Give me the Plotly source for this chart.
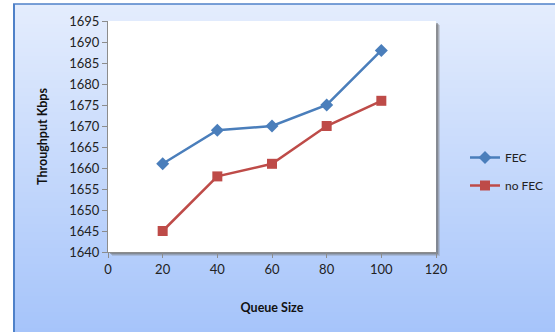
import plotly.graph_objects as go

# Throughput versus queue size, with and without FEC
queue_size = [20, 40, 60, 80, 100]
fec = [1661, 1669, 1670, 1675, 1688]
no_fec = [1645, 1658, 1661, 1670, 1676]

W, H = 555, 332
L, R, T, B = 108, 119, 21, 80
pw, ph = W - L - R, H - T - B


def px_x(x):
    return (x - L) / pw


def px_y(y):
    return (H - B - y) / ph


def lerp(c0, c1, t):
    return "rgb(%d,%d,%d)" % tuple(round(a + (b - a) * t) for a, b in zip(c0, c1))


shapes = []
# chart area: vertical gradient from pale blue to blue
top_c, bot_c = (228, 237, 253), (166, 196, 250)
y0_px, n = 4, 82
step = (H - y0_px) / n
for i in range(n):
    ya = y0_px + i * step
    yb = ya + step + 0.6
    shapes.append(dict(type="rect", xref="paper", yref="paper", layer="below",
                       x0=px_x(14), x1=px_x(W + 2), y0=px_y(yb), y1=px_y(ya),
                       line=dict(width=0), fillcolor=lerp(top_c, bot_c, i / (n - 1))))
# chart area border
shapes.append(dict(type="line", xref="paper", yref="paper", layer="below",
                   x0=px_x(14), x1=px_x(14), y0=px_y(H + 2), y1=px_y(4),
                   line=dict(color="#4f81c8", width=2)))
shapes.append(dict(type="line", xref="paper", yref="paper", layer="below",
                   x0=px_x(13), x1=px_x(W + 2), y0=px_y(4), y1=px_y(4),
                   line=dict(color="#4f81c8", width=1.5)))
# soft drop shadow behind the plot area
for off, col in [(4, "rgba(120,120,120,0.25)"), (3, "rgba(120,120,120,0.35)"), (2, "rgba(110,110,110,0.5)")]:
    shapes.append(dict(type="rect", xref="paper", yref="paper", layer="below",
                       x0=px_x(L + off), x1=px_x(L + pw + off), y0=px_y(H - B + off), y1=px_y(T + off),
                       line=dict(width=0), fillcolor=col))
# white plot area
shapes.append(dict(type="rect", xref="paper", yref="paper", layer="below",
                   x0=0, x1=1, y0=0, y1=1, line=dict(width=0), fillcolor="white"))

fig = go.Figure()
fig.add_trace(go.Scatter(
    x=queue_size, y=fec, name="FEC", mode="lines+markers", legendgroup="a",
    line=dict(color="#4a7ebb", width=2.5),
    marker=dict(symbol="diamond", size=10, color="#4a7ebb"),
))
fig.add_trace(go.Scatter(
    x=queue_size, y=no_fec, name="no FEC", mode="lines+markers", legendgroup="b",
    line=dict(color="#be4b48", width=2.5),
    marker=dict(symbol="square", size=10, color="#be4b48"),
))

font = "Lato, 'Open Sans', sans-serif"
fig.update_layout(
    width=W, height=H,
    margin=dict(l=L, r=R, t=T, b=B, pad=0, autoexpand=False),
    paper_bgcolor="white",
    plot_bgcolor="rgba(0,0,0,0)",
    font=dict(family=font, size=12, color="#222"),
    shapes=shapes,
    showlegend=True,
    legend=dict(x=px_x(465), y=px_y(143), xanchor="left", yanchor="top",
                bgcolor="rgba(0,0,0,0)", font=dict(size=12, color="#222"),
                tracegroupgap=9, itemwidth=30),
    xaxis=dict(range=[0, 120], dtick=20, tick0=0, showgrid=False, zeroline=False,
               showline=True, linecolor="#8c8c8c", linewidth=1,
               ticks="outside", ticklen=5, tickcolor="#8c8c8c",
               tickfont=dict(size=13, color="#222"),
               title=dict(text="<b>Queue Size</b>", font=dict(size=12.5, color="#111"), standoff=27)),
    yaxis=dict(range=[1640, 1695], dtick=5, tick0=1640, showgrid=False, zeroline=False,
               showline=True, linecolor="#8c8c8c", linewidth=1,
               ticks="outside", ticklen=5, tickcolor="#8c8c8c",
               tickfont=dict(size=13, color="#222"),
               title=dict(text="<b>Throughput Kbps</b>", font=dict(size=12.5, color="#111"), standoff=18)),
)

fig.write_html("out.html")
